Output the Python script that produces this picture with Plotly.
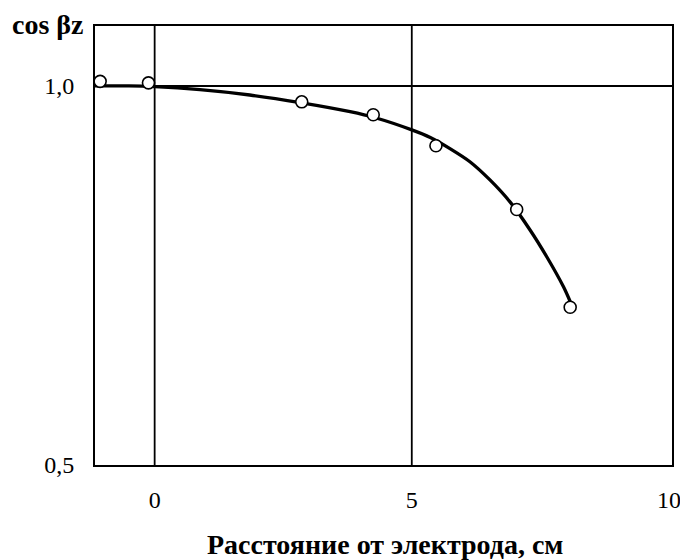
import plotly.graph_objects as go

# measured points (circles)
pts_x = [-1.06, -0.12, 2.86, 4.25, 5.47, 7.04, 8.08]
pts_y = [1.006, 1.004, 0.979, 0.962, 0.921, 0.837, 0.708]

# smooth fitted curve
curve_x = [-1.16, -0.5, 0.0, 0.88, 1.85, 2.83, 3.80, 4.29, 5.0, 5.36, 5.75, 6.13,
           6.52, 6.91, 7.30, 7.63, 7.95, 8.09]
curve_y = [1.000, 1.000, 0.999, 0.995, 0.988, 0.978, 0.966, 0.958, 0.942, 0.932,
           0.917, 0.900, 0.876, 0.847, 0.810, 0.774, 0.735, 0.714]

x_ticks = [0, 5, 10]
x_tick_text = ["0", "5", "10"]
y_ticks = [0.5, 1.0]
y_tick_text = ["0,5", "1,0"]

y_title = "cos βz"
x_title = "Расстояние от электрода, см"

FONT = "Liberation Serif"
X_RANGE = [-1.16, 10.06]

fig = go.Figure()
fig.add_trace(go.Scatter(x=curve_x, y=curve_y, mode="lines",
                         line=dict(color="black", width=3.3, shape="spline", smoothing=0.8),
                         hoverinfo="skip", showlegend=False))
fig.add_trace(go.Scatter(x=pts_x, y=pts_y, mode="markers",
                         marker=dict(symbol="circle", size=12, color="white",
                                     line=dict(color="black", width=1.6)),
                         showlegend=False))

# vertical grid lines at the inner x ticks
for v in x_ticks:
    if X_RANGE[0] < v < X_RANGE[1] - 0.2:
        fig.add_shape(type="line", xref="x", yref="paper", x0=v, x1=v, y0=0, y1=1,
                      line=dict(color="black", width=1.8), layer="below")

fig.update_layout(
    width=680, height=552,
    margin=dict(l=87, r=16, t=18, b=95),
    paper_bgcolor="white", plot_bgcolor="white",
    font=dict(family=FONT, color="black", size=24),
    xaxis=dict(range=X_RANGE, tickvals=x_ticks, ticktext=x_tick_text,
               showgrid=False,
               showline=True, linecolor="black", linewidth=2, mirror=True,
               zeroline=False, ticks="", ticklabelstandoff=12, automargin=False,
               tickfont=dict(family=FONT, size=24, color="black")),
    yaxis=dict(range=[0.5, 1.079], tickvals=y_ticks, ticktext=y_tick_text,
               showgrid=True, gridcolor="black", gridwidth=1.8,
               showline=True, linecolor="black", linewidth=2, mirror=True,
               zeroline=False, ticks="", ticklabelstandoff=14, automargin=False,
               tickfont=dict(family=FONT, size=24, color="black")),
    annotations=[
        dict(text="<b>" + y_title + "</b>", xref="paper", yref="paper",
             x=-0.147, y=1.003, xanchor="left", yanchor="middle", showarrow=False,
             font=dict(family=FONT, size=28, color="black")),
        dict(text="<b>" + x_title + "</b>", xref="paper", yref="paper",
             x=0.503, y=-0.180, xanchor="center", yanchor="middle", showarrow=False,
             font=dict(family=FONT, size=28, color="black")),
    ],
)

fig.write_html("out.html")
